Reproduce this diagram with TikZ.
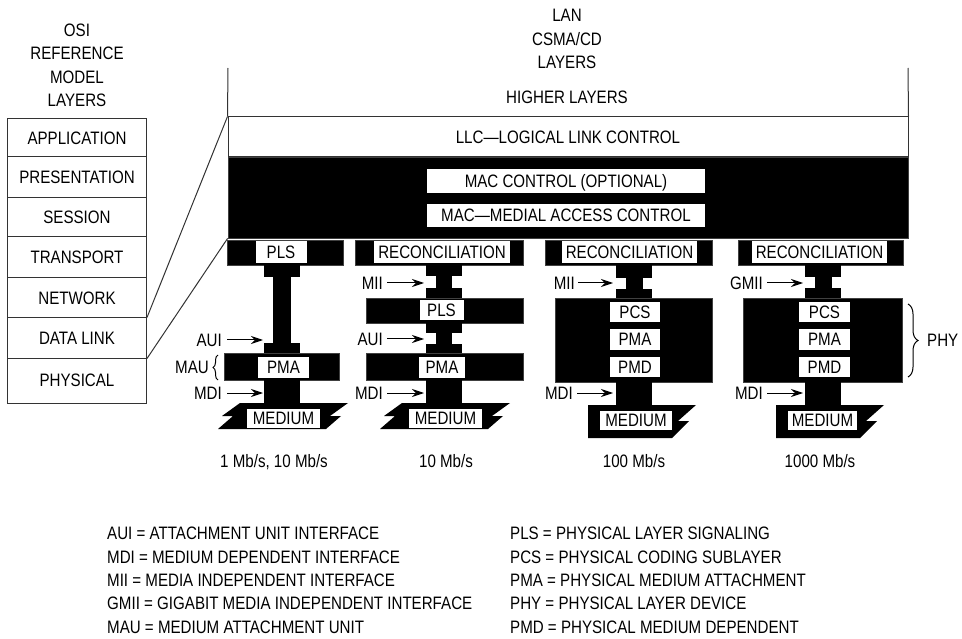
\documentclass[tikz,border=0pt]{standalone}
\usepackage{fontspec}
\setmainfont{Liberation Sans}[FakeStretch=0.84]
\usetikzlibrary{arrows.meta,decorations.pathreplacing}

\begin{document}
\begin{tikzpicture}[x=1pt,y=-1pt,
  every node/.style={font=\fontsize{18}{21}\selectfont, inner sep=0pt,
    text height=12.9pt, text depth=0pt},
  frame/.style={draw=black!80, line width=1pt},
  osirow/.style={frame, minimum width=139},
  blk/.style={fill=black, draw=black!75, line width=0.8pt},
  solid/.style={fill=black},
  lbl/.style={fill=white, minimum height=20},
  arr/.style={line width=1pt, -{Stealth[length=12pt,width=8pt,inset=4pt]}},
  tag/.style={anchor=east},
  legend/.style={anchor=west},
  curly/.style={line width=1pt, decorate, decoration={brace, amplitude=#1}},
  mediumslant/.pic={\fill (-42,0) -- (66,0) -- (48,13) -- (59,13) -- (44,26)
      -- (-64,26) -- (-49,13) -- (-60,13) -- cycle;},
  mediumflat/.pic={\fill (-46,0) -- (62,0) -- (44,16) -- (55,16) -- (38,33)
      -- (-46,33) -- cycle;}
]
\useasboundingbox (0,0) rectangle (962,639);

% ---------------- OSI reference model ----------------
\node (osiA) at (77,30) {OSI};
\node (osiB) at (77,53) {REFERENCE};
\node (osiC) at (77,77) {MODEL};
\node (osiD) at (77,100) {LAYERS};

\node[osirow, minimum height=38] (app)   at (77,138)   {APPLICATION};
\node[osirow, minimum height=41] (pres)  at (77,177.5) {PRESENTATION};
\node[osirow, minimum height=39] (sess)  at (77,217.5) {SESSION};
\node[osirow, minimum height=41] (trans) at (77,257.5) {TRANSPORT};
\node[osirow, minimum height=40] (net)   at (77,298)   {NETWORK};
\node[osirow, minimum height=40] (dl)    at (77,338)   {DATA LINK};
\node[osirow, minimum height=45] (phys)  at (77,380.5) {PHYSICAL};

% ---------------- LAN CSMA/CD stack ----------------
\node (lanA) at (567,15) {LAN};
\node (lanB) at (567,39) {CSMA/CD};
\node (lanC) at (567,62) {LAYERS};
\node (higher) at (567,97) {HIGHER LAYERS};

\coordinate (lanL) at (228,68);
\coordinate (lanR) at (908,68);
\node[frame, minimum width=680, minimum height=40] (llc) at (568,137)
  {LLC---LOGICAL LINK CONTROL};
\draw[frame] (lanL) -- (llc.north west);
\draw[frame] (lanR) -- (llc.north east);

\node[blk, minimum width=680, minimum height=81] (mac) at (568,197.5) {};
\node[lbl, minimum width=278, minimum height=24] (macctl) at (566,181)
  {MAC CONTROL (OPTIONAL)};
\node[lbl, minimum width=278, minimum height=23] (macmed) at (566,215.5)
  {MAC---MEDIAL ACCESS CONTROL};

% links between the two stacks
\draw[frame] (dl.north east) -- (llc.north west);
\draw[frame] (dl.south east) -- (mac.south west);

% ---------------- sublayer row ----------------
\node[blk, minimum width=116, minimum height=25] (sub1) at (285,252.5) {};
\node[lbl, minimum width=51, minimum height=22] (sub1l) at (281,252) {PLS};
\node[blk, minimum width=168, minimum height=25] (sub2) at (439,252.5) {};
\node[lbl, minimum width=136, minimum height=22] (sub2l) at (442,252.5) {RECONCILIATION};
\node[blk, minimum width=167, minimum height=25] (sub3) at (628.5,252.5) {};
\node[lbl, minimum width=135, minimum height=22] (sub3l) at (629.5,252.5) {RECONCILIATION};
\node[blk, minimum width=165, minimum height=25] (sub4) at (820.5,252.5) {};
\node[lbl, minimum width=135, minimum height=22] (sub4l) at (819.5,252.5) {RECONCILIATION};

% ---------------- column 1: 1 Mb/s, 10 Mb/s ----------------
\node[solid, minimum width=36, minimum height=11] (c1a) at (282,270.5) {};
\node[solid, minimum width=18, minimum height=71] (c1b) at (282,311) {};
\node[solid, minimum width=36, minimum height=8]  (c1c) at (282,349.5) {};
\node[blk, minimum width=115, minimum height=27] (pma1) at (281.5,366.5) {};
\node[lbl, minimum width=51, minimum height=21] (pma1l) at (283.5,367.5) {PMA};
\node[solid, minimum width=36, minimum height=24] (c1d) at (282,391.5) {};
\pic at (282,403) {mediumslant};
\node[lbl, minimum width=73, minimum height=19] (med1) at (283.5,418.5) {MEDIUM};

\node[tag] (aui1) at (222,340) {AUI};
\coordinate (aui1t) at (263,340);
\draw[arr] ([xshift=5pt]aui1.east) -- (aui1t);
\node[tag] (mau) at (209,367) {MAU};
\coordinate (mauB) at (218,380);
\coordinate (mauT) at (218,355);
\draw[curly=5pt] (mauB) -- (mauT);
\node[tag] (mdi1) at (222,393) {MDI};
\coordinate (mdi1t) at (263,393);
\draw[arr] ([xshift=5pt]mdi1.east) -- (mdi1t);

% ---------------- column 2: 10 Mb/s ----------------
\node[solid, minimum width=36, minimum height=11] (c2a) at (444,270) {};
\node[solid, minimum width=16, minimum height=17] (c2b) at (444,283) {};
\node[solid, minimum width=36, minimum height=8]  (c2c) at (444,294.5) {};
\node[blk, minimum width=157, minimum height=25] (pls2) at (444.5,310.5) {};
\node[lbl, minimum width=44, minimum height=20] (pls2l) at (441.5,310.5) {PLS};
\node[solid, minimum width=36, minimum height=8]  (c2d) at (444,326.5) {};
\node[solid, minimum width=16, minimum height=18] (c2e) at (444,338.5) {};
\node[solid, minimum width=36, minimum height=7]  (c2f) at (444,350) {};
\node[blk, minimum width=157, minimum height=27] (pma2) at (444.5,366.5) {};
\node[lbl, minimum width=46, minimum height=21] (pma2l) at (442,367) {PMA};
\node[solid, minimum width=36, minimum height=24] (c2g) at (444,391.5) {};
\pic at (444,403) {mediumslant};
\node[lbl, minimum width=73, minimum height=19] (med2) at (445.5,418.5) {MEDIUM};

\node[tag] (mii2) at (383,283) {MII};
\coordinate (mii2t) at (424,283);
\draw[arr] ([xshift=4pt]mii2.east) -- (mii2t);
\node[tag] (aui2) at (383,339) {AUI};
\coordinate (aui2t) at (424,339);
\draw[arr] ([xshift=4pt]aui2.east) -- (aui2t);
\node[tag] (mdi2) at (383,393) {MDI};
\coordinate (mdi2t) at (424,393);
\draw[arr] ([xshift=4pt]mdi2.east) -- (mdi2t);

% ---------------- column 3: 100 Mb/s ----------------
\node[solid, minimum width=36, minimum height=11] (c3a) at (634,271.5) {};
\node[solid, minimum width=17, minimum height=16] (c3b) at (634.5,284.5) {};
\node[solid, minimum width=36, minimum height=7]  (c3c) at (634,295) {};
\node[blk, minimum width=157, minimum height=84] (phy3) at (633.5,340) {};
\node[lbl, minimum width=50, minimum height=20] (pcs3) at (635,312) {PCS};
\node[lbl, minimum width=50, minimum height=20] (pma3) at (635,339.5) {PMA};
\node[lbl, minimum width=50, minimum height=20] (pmd3) at (635,367) {PMD};
\node[solid, minimum width=36, minimum height=24] (c3d) at (634,393.5) {};
\pic at (634,405) {mediumflat};
\node[lbl, minimum width=72, minimum height=19] (med3) at (636,420.5) {MEDIUM};

\node[tag] (mii3) at (575,283) {MII};
\coordinate (mii3t) at (613,283);
\draw[arr] ([xshift=3pt]mii3.east) -- (mii3t);
\node[tag] (mdi3) at (573,393) {MDI};
\coordinate (mdi3t) at (613,393);
\draw[arr] ([xshift=4pt]mdi3.east) -- (mdi3t);

% ---------------- column 4: 1000 Mb/s ----------------
\node[solid, minimum width=36, minimum height=11] (c4a) at (823,271) {};
\node[solid, minimum width=17, minimum height=16] (c4b) at (823.5,283.5) {};
\node[solid, minimum width=36, minimum height=7]  (c4c) at (823,294.5) {};
\node[blk, minimum width=159, minimum height=84] (phy4) at (822.5,340) {};
\node[lbl, minimum width=51, minimum height=20] (pcs4) at (824.5,312) {PCS};
\node[lbl, minimum width=51, minimum height=20] (pma4) at (824.5,339.5) {PMA};
\node[lbl, minimum width=51, minimum height=20] (pmd4) at (824.5,367) {PMD};
\node[solid, minimum width=36, minimum height=24] (c4d) at (823,393.5) {};
\pic at (822,405) {mediumflat};
\node[lbl, minimum width=69, minimum height=19] (med4) at (822.5,420.5) {MEDIUM};

\node[tag] (gmii4) at (763,283) {GMII};
\coordinate (gmii4t) at (803,283);
\draw[arr] ([xshift=4pt]gmii4.east) -- (gmii4t);
\node[tag] (mdi4) at (763,393) {MDI};
\coordinate (mdi4t) at (803,393);
\draw[arr] ([xshift=4pt]mdi4.east) -- (mdi4t);

\coordinate (phyT) at (908,304);
\coordinate (phyB) at (908,377);
\draw[curly=10pt] (phyT) -- (phyB);
\node[anchor=west] (phy) at (927,340) {PHY};

% ---------------- data rates ----------------
\node (rate1) at (274,461) {1 Mb/s, 10 Mb/s};
\node (rate2) at (446,461) {10 Mb/s};
\node (rate3) at (634,461) {100 Mb/s};
\node (rate4) at (820,461) {1000 Mb/s};

% ---------------- abbreviations ----------------
\node[legend] (lgA) at (107,533) {AUI = ATTACHMENT UNIT INTERFACE};
\node[legend] (lgB) at (107,557) {MDI = MEDIUM DEPENDENT INTERFACE};
\node[legend] (lgC) at (107,580) {MII = MEDIA INDEPENDENT INTERFACE};
\node[legend] (lgD) at (107,603) {GMII = GIGABIT MEDIA INDEPENDENT INTERFACE};
\node[legend] (lgE) at (107,627) {MAU = MEDIUM ATTACHMENT UNIT};
\node[legend] (lgF) at (510,533) {PLS = PHYSICAL LAYER SIGNALING};
\node[legend] (lgG) at (510,557) {PCS = PHYSICAL CODING SUBLAYER};
\node[legend] (lgH) at (510,580) {PMA = PHYSICAL MEDIUM ATTACHMENT};
\node[legend] (lgI) at (510,603) {PHY = PHYSICAL LAYER DEVICE};
\node[legend] (lgJ) at (510,627) {PMD = PHYSICAL MEDIUM DEPENDENT};
\end{tikzpicture}
\end{document}
